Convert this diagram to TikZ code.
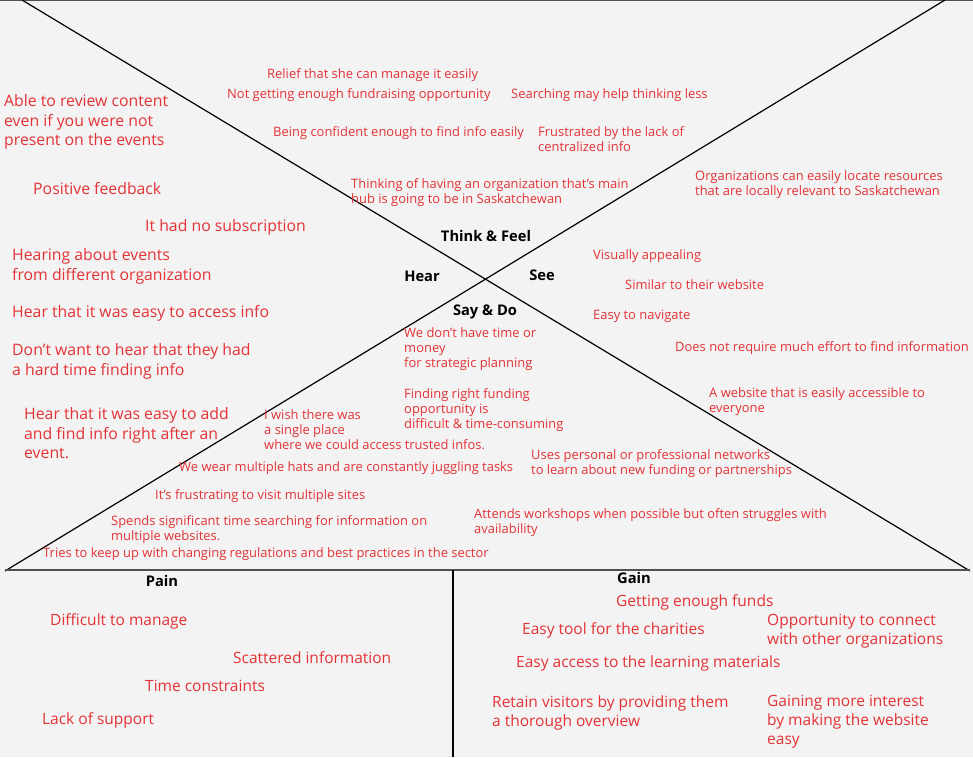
\documentclass[tikz,border=0pt]{standalone}
\usepackage{fontspec}
\setmainfont{Open Sans}
\definecolor{bg}{RGB}{243,243,243}
\definecolor{txtred}{RGB}{228,50,54}
\definecolor{rule}{RGB}{80,80,80}
\begin{document}
\begin{tikzpicture}[x=1pt,y=-1pt,
  big/.style={anchor=north west, inner sep=0pt, text=txtred, align=left, font=\fontsize{15.8}{19.5}\selectfont},
  mid/.style={anchor=north west, inner sep=0pt, text=txtred, align=left, font=\fontsize{15.5}{19}\selectfont},
  small/.style={anchor=north west, inner sep=0pt, text=txtred, align=left, font=\fontsize{12.95}{15.2}\selectfont},
  lab/.style={anchor=center, inner sep=0pt, font=\fontsize{14.7}{16}\selectfont\bfseries},
  diag/.style={draw=black, line width=1.2pt},
  sep/.style={draw=rule, line width=1.8pt}]
\fill[bg] (0,0) rectangle (973,757);
\useasboundingbox (0,0) rectangle (973,757);
% frame lines
\coordinate (tl) at (0,0.6);
\coordinate (tr) at (973,0.6);
\draw[sep, line width=1.2pt] (tl) -- (tr);
\coordinate (A) at (22,0);
\coordinate (B) at (970,571);
\coordinate (C) at (945,0);
\coordinate (D) at (5,571);
\draw[diag] (A) -- (B);
\draw[diag] (C) -- (D);
\coordinate (hl) at (5,570);
\coordinate (hr) at (970,570);
\draw[sep] (hl) -- (hr);
\coordinate (vt) at (453,570);
\coordinate (vb) at (453,757);
\draw[diag] (vt) -- (vb);
% quadrant labels
\node[lab] (think) at (486,236) {Think \& Feel};
\node[lab] (hear) at (422,276) {Hear};
\node[lab] (see) at (542,275) {See};
\node[lab] (saydo) at (485,312) {Say \& Do};
\node[lab] (pain) at (162,581) {Pain};
\node[lab] (gain) at (634,578) {Gain};
% think & feel
\node[small] (relief) at (267,68) {Relief that she can manage it easily};
\node[small] (notget) at (227,88) {Not getting enough fundraising opportunity};
\node[small] (search) at (511,88) {Searching may help thinking less};
\node[small] (confident) at (273,126) {Being confident enough to find info easily};
\node[small] (frustrated) at (538,126) {Frustrated by the lack of\\centralized info};
\node[small] (thinking) at (351,178) {Thinking of having an organization that’s main\\hub is going to be in Saskatchewan};
% see
\node[small] (orgs) at (695,170) {Organizations can easily locate resources\\that are locally relevant to Saskatchewan};
\node[small] (visual) at (593,249) {Visually appealing};
\node[small] (similar) at (625,279) {Similar to their website};
\node[small] (navigate) at (593,310) {Easy to navigate};
\node[small] (effort) at (675,341) {Does not require much effort to find information};
\node[small] (accessible) at (709,387) {A website that is easily accessible to\\everyone};
% hear
\node[big] (able) at (4,94.5) {Able to review content\\even if you were not\\present on the events};
\node[big] (positive) at (33,182.5) {Positive feedback};
\node[big] (subscr) at (145,219.5) {It had no subscription};
\node[big] (hearing) at (12,248.5) {Hearing about events\\from different organization};
\node[big] (easyaccess) at (12,305.5) {Hear that it was easy to access info};
\node[big] (dontwant) at (12,343.5) {Don’t want to hear that they had\\a hard time finding info};
\node[big] (easyadd) at (24,407.5) {Hear that it was easy to add\\and find info right after an\\event.};
% say & do
\node[small] (notime) at (404,327) {We don’t have time or\\money\\for strategic planning};
\node[small] (funding) at (404,388) {Finding right funding\\opportunity is\\difficult \& time-consuming};
\node[small] (wish) at (264,409) {I wish there was\\a single place\\where we could access trusted infos.};
\node[small] (hats) at (179,461) {We wear multiple hats and are constantly juggling tasks};
\node[small] (networks) at (531,449) {Uses personal or professional networks\\to learn about new funding or partnerships};
\node[small] (frustrating) at (155,489) {It’s frustrating to visit multiple sites};
\node[small] (spends) at (111,515) {Spends significant time searching for information on\\multiple websites.};
\node[small] (workshops) at (474,508) {Attends workshops when possible but often struggles with\\availability};
\node[small] (tries) at (43,547) {Tries to keep up with changing regulations and best practices in the sector};
% pain
\node[mid] (difficult) at (50,613.5) {Difficult to manage};
\node[mid] (scattered) at (233,651.5) {Scattered information};
\node[mid] (timecons) at (145,679.5) {Time constraints};
\node[mid] (lack) at (42,712.5) {Lack of support};
% gain
\node[mid] (funds) at (616,594.5) {Getting enough funds};
\node[mid] (tool) at (522,622.5) {Easy tool for the charities};
\node[mid] (connect) at (767,613.5) {Opportunity to connect\\with other organizations};
\node[mid] (learning) at (516,655.5) {Easy access to the learning materials};
\node[mid] (retain) at (492,695.5) {Retain visitors by providing them\\a thorough overview};
\node[mid] (gaining) at (767,694.5) {Gaining more interest\\by making the website\\easy};
\end{tikzpicture}
\end{document}
